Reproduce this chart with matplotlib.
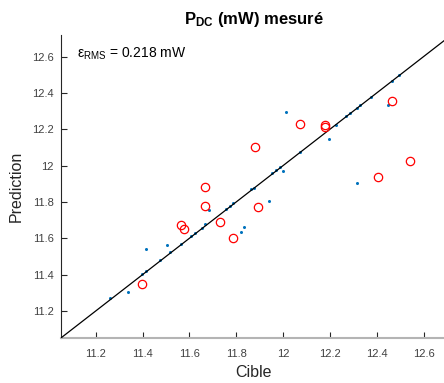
import matplotlib
matplotlib.use("Agg")
import matplotlib.pyplot as plt

plt.rcParams['font.family'] = ['Liberation Sans', 'DejaVu Sans']
plt.rcParams['mathtext.fontset'] = 'custom'
plt.rcParams['mathtext.rm'] = 'Liberation Sans'
plt.rcParams['mathtext.it'] = 'Liberation Sans:italic'
plt.rcParams['mathtext.bf'] = 'Liberation Sans:bold'

# Blue points (all samples)
cible_all = [12.013, 12.495, 12.465, 12.376, 12.330, 12.314, 12.286, 12.270, 12.224,
             12.449, 12.194, 12.074, 11.985, 11.970, 11.954, 12.000, 12.314, 11.876,
             11.863, 11.940, 11.684, 11.788, 11.774, 11.758, 11.668, 11.654, 11.624,
             11.608, 11.564, 11.519, 11.503, 11.474, 11.413, 11.413, 11.399, 11.338,
             11.263, 11.819, 11.833]
pred_all = [12.296, 12.497, 12.465, 12.375, 12.333, 12.317, 12.287, 12.273, 12.225,
            12.333, 12.148, 12.076, 11.990, 11.977, 11.957, 11.972, 11.902, 11.878,
            11.871, 11.807, 11.756, 11.794, 11.779, 11.763, 11.677, 11.658, 11.629,
            11.614, 11.570, 11.525, 11.563, 11.482, 11.543, 11.420, 11.404, 11.303,
            11.273, 11.633, 11.662]

# Red circles (test samples)
cible_test = [12.463, 12.074, 12.180, 12.180, 11.879, 12.540, 12.405, 11.668, 11.668,
              11.729, 11.563, 11.579, 11.399, 11.788, 11.894]
pred_test = [12.357, 12.229, 12.225, 12.214, 12.104, 12.023, 11.935, 11.882, 11.776,
             11.691, 11.675, 11.653, 11.350, 11.603, 11.772]

xticks = [11.2, 11.4, 11.6, 11.8, 12.0, 12.2, 12.4, 12.6]
xticklabels = ['11.2', '11.4', '11.6', '11.8', '12', '12.2', '12.4', '12.6']
xlim = (11.05, 12.70)
ylim = (11.05, 12.72)

fig = plt.figure(figsize=(4.44, 3.83), dpi=100)
ax = fig.add_axes([60.5 / 444, 1 - 338.3 / 383, 386.6 / 444, 303.6 / 383])

ax.plot(cible_all, pred_all, linestyle='none', marker='o', markersize=2.2,
        color='#0072BD', markeredgewidth=0, zorder=2)
ax.plot([xlim[0], xlim[1]], [xlim[0], xlim[1]], color='black', linewidth=0.9, zorder=3)
ax.plot(cible_test, pred_test, linestyle='none', marker='o', markersize=6,
        markerfacecolor='none', markeredgecolor='#FF0000', markeredgewidth=0.9, zorder=4)

ax.set_xlim(*xlim)
ax.set_ylim(*ylim)
ax.set_xticks(xticks)
ax.set_xticklabels(xticklabels)
ax.set_yticks(xticks)
ax.set_yticklabels(xticklabels)

for s in ['top', 'right']:
    ax.spines[s].set_visible(False)
ax.spines['left'].set_color('#262626')
ax.spines['left'].set_linewidth(0.8)
ax.spines['bottom'].set_color('#b4b4b4')
ax.spines['bottom'].set_linewidth(1.5)
ax.tick_params(direction='in', length=4, width=0.8, colors='#262626',
               labelsize=8, labelcolor='#404040')
ax.tick_params(axis='x', pad=8)
ax.tick_params(axis='y', pad=5)

ax.set_xlabel('Cible', fontsize=11.5, color='#262626', labelpad=4)
ax.set_ylabel('Prediction', fontsize=11.5, color='#262626', labelpad=6)
ax.set_title(r'$\mathbf{P}_{\mathbf{DC}}$ (mW) mesuré', fontsize=12,
             fontweight='bold', color='black', pad=8)

ax.text(0.043, 0.923, r'$\mathrm{ε}_{\mathrm{RMS}}$ = 0.218 mW', transform=ax.transAxes,
        fontsize=10, va='baseline', ha='left', color='black')

fig.savefig('out.png', dpi=100)
